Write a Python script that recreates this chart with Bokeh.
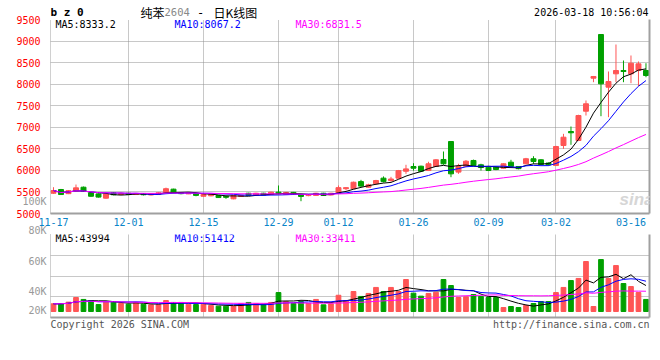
import pandas as pd
from bokeh.plotting import figure
from bokeh.layouts import column
from bokeh.models import Range1d, FixedTicker, LinearAxis, Label, ColumnDataSource
from bokeh.core.properties import value
from bokeh.embed import file_html
from bokeh.resources import INLINE

# ---------------- data ----------------
DATES = ["11-17", "11-18", "11-19", "11-20", "11-21", "11-24", "11-25", "11-26", "11-27", "11-28",
         "12-01", "12-02", "12-03", "12-04", "12-05", "12-08", "12-09", "12-10", "12-11", "12-12",
         "12-15", "12-16", "12-17", "12-18", "12-19", "12-22", "12-23", "12-24", "12-25", "12-26",
         "12-29", "12-30", "12-31",
         "01-05", "01-06", "01-07", "01-08", "01-09", "01-12", "01-13", "01-14", "01-15", "01-16",
         "01-19", "01-20", "01-21", "01-22", "01-23", "01-26", "01-27", "01-28", "01-29", "01-30",
         "02-02", "02-03", "02-04", "02-05", "02-06", "02-09", "02-10", "02-11", "02-12", "02-13",
         "02-24", "02-25", "02-26", "02-27",
         "03-02", "03-03", "03-04", "03-05", "03-06", "03-09", "03-10", "03-11", "03-12", "03-13",
         "03-16", "03-17", "03-18"]

TICK_LABELS = ["11-17", "12-01", "12-15", "12-29", "01-12", "01-26", "02-09", "03-02", "03-16"]

OPEN = [5470, 5556, 5460, 5520, 5610, 5480, 5455, 5355, 5480, 5440,
        5470, 5440, 5465, 5430, 5440, 5490, 5565, 5485, 5455, 5460,
        5400, 5410, 5417, 5400, 5340, 5395, 5470, 5420, 5470, 5440,
        5495, 5440, 5490, 5440, 5415, 5420, 5470, 5430, 5470, 5575,
        5575, 5740, 5610, 5690, 5820, 5765, 5820, 5980, 6090, 6097,
        5997, 6090, 6253, 6670, 5960, 6097, 6230, 6130, 6074, 6074,
        6050, 6190, 6090, 6153, 6270, 6246, 6170, 6113, 6577, 6902,
        6693, 7373, 8139, 9152, 7930, 8240, 8317, 8240, 8317, 8317]
HIGH = [5610, 5570, 5545, 5672, 5625, 5490, 5465, 5465, 5495, 5485,
        5480, 5475, 5475, 5465, 5490, 5600, 5575, 5495, 5490, 5470,
        5450, 5450, 5425, 5410, 5425, 5420, 5480, 5480, 5480, 5505,
        5650, 5500, 5500, 5450, 5450, 5480, 5480, 5480, 5650, 5610,
        5740, 5780, 5690, 5780, 5860, 5850, 6010, 6130, 6166, 6110,
        6200, 6260, 6438, 6680, 6153, 6240, 6250, 6153, 6090, 6085,
        6165, 6245, 6100, 6290, 6329, 6260, 6185, 6570, 6848, 7018,
        7290, 7621, 8190, 9160, 8294, 8920, 8549, 8665, 8526, 8486]
LOW = [5455, 5430, 5450, 5510, 5500, 5390, 5370, 5345, 5425, 5430,
       5430, 5430, 5420, 5420, 5435, 5480, 5470, 5445, 5450, 5400,
       5390, 5400, 5360, 5340, 5330, 5385, 5410, 5410, 5420, 5430,
       5450, 5430, 5430, 5285, 5400, 5410, 5410, 5420, 5460, 5540,
       5565, 5620, 5600, 5680, 5720, 5740, 5810, 5920, 5997, 5965,
       5985, 6080, 6130, 5842, 5920, 6080, 6100, 5997, 5985, 6005,
       6040, 6080, 6025, 6140, 6153, 6120, 6110, 6100, 6500, 6593,
       6680, 7273, 8046, 7257, 7234, 8046, 8046, 8023, 7953, 8161]
CLOSE = [5533, 5440, 5530, 5595, 5510, 5400, 5380, 5455, 5435, 5470,
         5440, 5465, 5435, 5455, 5480, 5575, 5480, 5460, 5482, 5420,
         5440, 5440, 5370, 5375, 5417, 5420, 5420, 5470, 5430, 5495,
         5460, 5490, 5440, 5395, 5440, 5470, 5420, 5470, 5600, 5600,
         5725, 5635, 5665, 5765, 5740, 5800, 5995, 6035, 6050, 5980,
         6153, 6245, 6153, 5920, 6090, 6213, 6113, 6066, 5997, 6020,
         6153, 6090, 6040, 6270, 6206, 6136, 6130, 6554, 6770, 6872,
         7273, 7545, 8178, 8008, 8062, 8317, 8294, 8486, 8472, 8201]
VOLUME = [31800, 31800, 32900, 36000, 34700, 34000, 31300, 32900, 33300, 32000,
          31500, 32500, 31500, 31100, 31100, 34000, 32700, 32700, 31500, 31300,
          31500, 30700, 30200, 30200, 30200, 32000, 32700, 32000, 31100, 32700,
          39300, 33300, 32000, 33300, 32000, 34700, 31100, 31800, 37500, 34000,
          40000, 36700, 38700, 42700, 40000, 42700, 40000, 48000, 38900, 36900,
          38700, 39500, 48000, 44000, 36000, 36500, 38000, 36700, 36000, 36000,
          29300, 30000, 29300, 30700, 32000, 33300, 33300, 39300, 42700, 47300,
          48700, 60000, 30000, 61300, 48700, 57300, 45300, 43300, 39300, 34700]

PRICE_TICKS = [5000, 5500, 6000, 6500, 7000, 7500, 8000, 8500, 9000, 9500]
VOL_TICK_VALUES = [100000, 80000, 60000, 40000, 20000]
VOL_TICK_LABELS = ["100K", "80K", "60K", "40K", "20K"]
PRICE_MA_TEXT = ["MA5:8333.2", "MA10:8067.2", "MA30:6831.5"]
VOL_MA_TEXT = ["MA5:43994", "MA10:51412", "MA30:33411"]
MA_WINDOWS = [5, 10, 30]

# ---------------- style / layout ----------------
MONO = "DejaVu Sans Mono"
CJK = "Noto Sans CJK SC"
UP, DOWN = "#ff5555", "#00a000"
MA_COLORS = ["#000000", "#0000ff", "#ff00ff"]
GRID = "#909090"
AXIS = "#a0a0a0"
PRICE_LABEL = "#ff0000"
VOL_LABEL = "#999999"
DATE_COLOR = "#0a84c8"

W = 660
LEFT, RIGHT = 50, 11
P1_H, P1_TOP, P1_BOTTOM = 234, 19, 21
P2_H, P2_TOP, P2_BOTTOM = 126, 0, 43
FRAME_W = W - LEFT - RIGHT
F1_H = P1_H - P1_TOP - P1_BOTTOM
F2_H = P2_H - P2_TOP - P2_BOTTOM
VOL_AXIS_RANGE = (22667, 78000)   # value range of the volume frame
VOL_BASE = 26667                  # bars start slightly above the frame bottom
VOL_LABEL_MAX_Y = 310             # lowest page row for a volume label

N = len(CLOSE)
idx = list(range(N))
TICK_POS = [DATES.index(t) for t in TICK_LABELS]
GRID_POS = TICK_POS[1:-1]         # first sits on the frame edge, last has no grid line

xr = Range1d(-0.4, N - 0.53)
price_range = Range1d(PRICE_TICKS[0], PRICE_TICKS[-1])
vol_range = Range1d(*VOL_AXIS_RANGE)

P1_FRAME_TOP_Y = P1_TOP
P2_FRAME_TOP_Y = P1_H + P2_TOP


def fx(X):
    return xr.start + (X - LEFT) / FRAME_W * (xr.end - xr.start)


def fy1(Y):
    return price_range.end - (Y - P1_FRAME_TOP_Y) / F1_H * (price_range.end - price_range.start)


def fy2(Y):
    return vol_range.end - (Y - P2_FRAME_TOP_Y) / F2_H * (vol_range.end - vol_range.start)


def vol_to_Y(v):
    return P2_FRAME_TOP_Y + (vol_range.end - v) / (vol_range.end - vol_range.start) * F2_H


def label(p, fy, X, Y, s, color, size="10px", align="left", font=MONO, style="normal"):
    """text inside a frame"""
    p.add_layout(Label(x=fx(X), y=fy(Y), text=s, text_color=color, text_font_size=size,
                       text_align=align, text_baseline="middle", text_font=font,
                       text_font_style=style))


def outside_text(p, fy, X, Y, s, color, size="10px", align="left", font=MONO, style="normal"):
    """text in the margins, drawn on the overlay level so it is not clipped to the frame"""
    p.text(x=[fx(X)], y=[fy(Y)], text=[s], text_color=color, text_font=value(font),
           text_font_size=value(size), text_align=align, text_baseline="middle",
           text_font_style=style, level="overlay")


def base_fig(h, top, bottom, yr):
    p = figure(width=W, height=h, x_range=xr, y_range=yr, output_backend="svg",
               toolbar_location=None, title=None,
               min_border_left=LEFT, min_border_right=RIGHT,
               min_border_top=top, min_border_bottom=bottom)
    p.outline_line_color = None
    p.background_fill_color = "white"
    p.border_fill_color = "white"
    left_ax, bottom_ax = p.left[0], p.below[0]
    for ax in (left_ax, bottom_ax):
        ax.major_tick_line_color = None
        ax.minor_tick_line_color = None
        ax.major_label_text_font = MONO
        ax.major_label_text_font_size = "10px"
    left_ax.axis_line_color = AXIS
    left_ax.axis_line_dash = "1 1"
    bottom_ax.axis_line_color = AXIS
    bottom_ax.axis_line_width = 2
    right = LinearAxis(ticker=FixedTicker(ticks=[]), major_tick_line_color=None,
                       minor_tick_line_color=None, major_label_standoff=0,
                       axis_line_color=AXIS, axis_line_width=2)
    p.add_layout(right, "right")
    p.xgrid.ticker = FixedTicker(ticks=GRID_POS)
    for g in p.grid:
        g.grid_line_color = GRID
        g.grid_line_dash = "1 1"
    return p, left_ax, bottom_ax


up = [c >= o for o, c in zip(OPEN, CLOSE)]
colors = [UP if u else DOWN for u in up]
src = ColumnDataSource(dict(
    x=idx, o=OPEN, h=HIGH, l=LOW, c=CLOSE,
    top=[max(o, c) for o, c in zip(OPEN, CLOSE)],
    bottom=[min(o, c) for o, c in zip(OPEN, CLOSE)],
    color=colors, vol=VOLUME))

# ---------------- price panel ----------------
p1, p1_left, p1_bottom = base_fig(P1_H, P1_TOP, P1_BOTTOM, price_range)
p1_bottom.ticker = FixedTicker(ticks=TICK_POS)
p1_bottom.major_label_overrides = {pos: lab for pos, lab in zip(TICK_POS, TICK_LABELS)}
p1_bottom.major_label_text_color = DATE_COLOR
p1_bottom.major_label_standoff = -2
p1_left.ticker = FixedTicker(ticks=PRICE_TICKS)
p1_left.major_label_text_color = PRICE_LABEL
p1_left.major_label_standoff = 4
p1.ygrid.ticker = FixedTicker(ticks=PRICE_TICKS)

p1.segment(x0="x", y0="h", x1="x", y1="l", color="color", line_width=1, source=src)
p1.vbar(x="x", top="top", bottom="bottom", width=0.66, fill_color="color",
        line_color="color", line_width=1, source=src)

close_s = pd.Series(CLOSE, dtype=float)
for win, col in zip(MA_WINDOWS, MA_COLORS):
    p1.line(idx, close_s.rolling(win, min_periods=1).mean().tolist(), color=col, line_width=1)

# header line
outside_text(p1, fy1, 50, 11.5, "b z 0", "#000000", size="11px", style="bold")
outside_text(p1, fy1, 140, 11.5, "纯苯", "#000000", size="12px", font=CJK)
outside_text(p1, fy1, 164, 11.5, "2604", "#888888", size="10.5px")
outside_text(p1, fy1, 200, 11.5, "-", "#000000", size="12px", align="center")
outside_text(p1, fy1, 213, 11.5, "日K线图", "#000000", size="12px", font=CJK)
outside_text(p1, fy1, 648, 11.5, "2026-03-18 10:56:04", "#000000", align="right")
for s, X, col in zip(PRICE_MA_TEXT, [55, 174, 295], MA_COLORS):
    label(p1, fy1, X, 23.5, s, col)
label(p1, fy1, 636, 199, "sina", "#d6d6d6", size="17px", align="center",
      font="Liberation Sans", style="bold italic")

# ---------------- volume panel ----------------
p2, p2_left, p2_bottom = base_fig(P2_H, P2_TOP, P2_BOTTOM, vol_range)
p2_bottom.ticker = FixedTicker(ticks=[])
p2_left.ticker = FixedTicker(ticks=[])
lo, hi = VOL_AXIS_RANGE
p2.ygrid.ticker = FixedTicker(ticks=[lo + (hi - lo) * k / 4 for k in (1, 2, 3, 4)])

p2.vbar(x="x", top="vol", bottom=VOL_BASE, width=0.63, fill_color="color",
        line_color="color", line_width=1, source=src)
vol_s = pd.Series(VOLUME, dtype=float)
for win, col in zip(MA_WINDOWS, MA_COLORS):
    p2.line(idx, vol_s.rolling(win, min_periods=1).mean().tolist(), color=col, line_width=1)

for s, X, col in zip(VOL_MA_TEXT, [55, 174, 295], MA_COLORS):
    label(p2, fy2, X, 238, s, col)

# volume axis labels (the upper ones spill into the price panel, as in the original)
for v, lab in zip(VOL_TICK_VALUES, VOL_TICK_LABELS):
    Y = min(vol_to_Y(v), VOL_LABEL_MAX_Y)
    if Y < P2_FRAME_TOP_Y:
        outside_text(p1, fy1, 46, min(Y, P1_H - 4.5), lab, VOL_LABEL, align="right")
    else:
        outside_text(p2, fy2, 46, Y, lab, VOL_LABEL, align="right")

outside_text(p2, fy2, 50, 323.5, "Copyright 2026 SINA.COM", "#555555")
outside_text(p2, fy2, 649, 323.5, "http://finance.sina.com.cn", "#555555", align="right")

layout = column(p1, p2, spacing=0)
open("out.html", "w").write(file_html(layout, INLINE))
